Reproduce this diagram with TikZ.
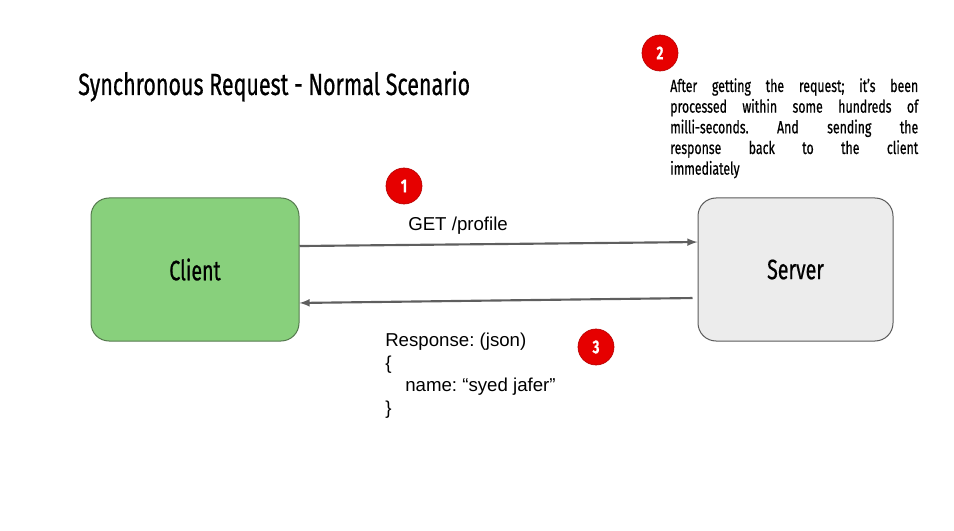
\documentclass[tikz,border=0pt]{standalone}
\usepackage{fontspec}
\setmainfont{Liberation Sans}
\newfontfamily\oswald[FakeStretch=0.7, FakeBold=0.6]{Fira Sans}
\usetikzlibrary{arrows,shapes,positioning}
\definecolor{clientgreen}{HTML}{88D07C}
\definecolor{clientline}{HTML}{557A4E}
\definecolor{servergray}{HTML}{ECECEC}
\definecolor{boxline}{HTML}{5B5B5B}
\definecolor{arrowgray}{HTML}{5F5F5F}
\definecolor{badgered}{HTML}{E60000}
\definecolor{badgeline}{HTML}{B80000}
\frenchspacing

\begin{document}
\begin{tikzpicture}[
    x=0.75pt, y=-0.75pt,
    box/.style={draw=boxline, line width=0.75pt, rectangle, rounded corners=13.5pt, minimum height=107.25pt, font=\oswald\fontsize{21}{25}\selectfont},
    badge/.style={circle, fill=badgered, draw=badgeline, line width=0.5pt, minimum size=27pt, inner sep=0pt, text=white, font=\oswald\bfseries\fontsize{14}{16}\selectfont},
    arrow/.style={->, line width=1.6pt, draw=arrowgray, >=latex},
    note/.style={inner sep=0pt, font=\fontsize{14}{16.9}\selectfont},
]
    \useasboundingbox (0,0) rectangle (954,531);

    % Title
    \node [anchor=base west, inner sep=0pt, font=\oswald\fontsize{23}{27}\selectfont] (title) at (78,95) {Synchronous Request - Normal Scenario};

    % Client and server
    \node [box, fill=clientgreen, draw=clientline, minimum width=156pt] (client) at (195,269.5) {Client};
    \node [box, fill=servergray, minimum width=146.25pt, right=298.5pt of client] (server) {Server};

    % Arrows
    \draw [arrow] ([yshift=17.6pt]client.east) -- ([yshift=20.6pt]server.west);
    \draw [arrow] ([xshift=-3.75pt, yshift=-21.4pt]server.west) -- ([yshift=-25.1pt]client.east);

    % Labels
    \node [note, anchor=base west] (get) at (408,231) {GET /profile};
    \node [note, anchor=north west, align=left] (resp) at (385,333) {Response: (json)\\\{\\\hspace*{15pt}name: “syed jafer”\\\}};
    \node [anchor=north west, inner sep=0pt, text width=186pt, align=justify, font=\oswald\fontsize{13.2}{15.5}\selectfont] (desc) at (670,78)
        {After getting the request; it’s been\linebreak processed within some hundreds of\linebreak milli-seconds. And sending the\linebreak response back to the client\linebreak immediately};

    % Steps
    \node [badge] (step1) at (404,186) {1};
    \node [badge] (step2) at (660,53) {2};
    \node [badge] (step3) at (596,347) {3};

\end{tikzpicture}
\end{document}
